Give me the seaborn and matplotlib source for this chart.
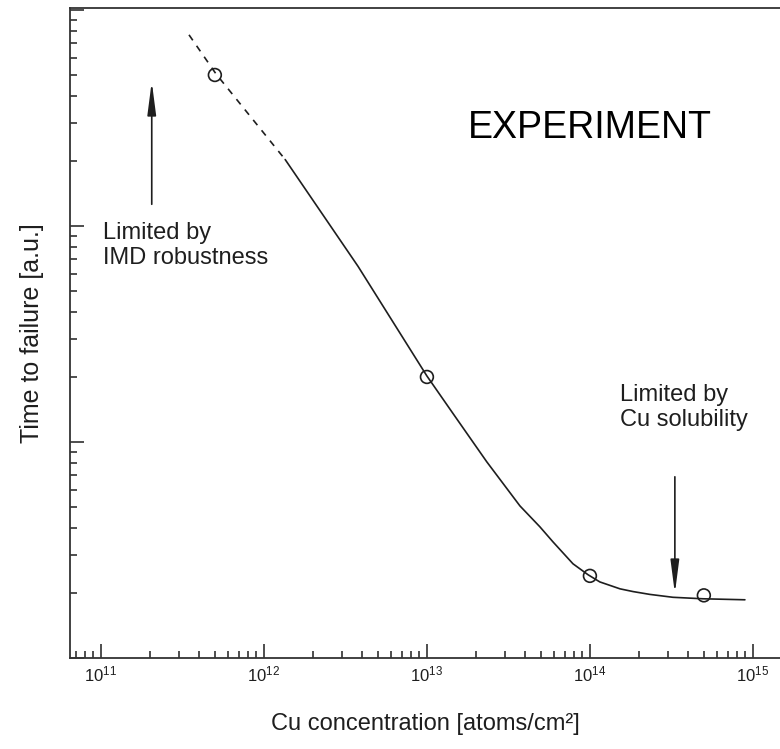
import numpy as np
import pandas as pd
import matplotlib
matplotlib.use("Agg")
import matplotlib.pyplot as plt
import matplotlib.ticker as mticker
import seaborn as sns

# Fitted time-to-failure curve versus Cu surface concentration
curve_conc = [3.47e11, 5.08e11, 1.35e12, 3.78e12, 1.0e13, 1.45e13, 2.33e13,
              3.72e13, 4.93e13, 5.93e13, 7.87e13, 9.73e13, 1.15e14, 1.53e14,
              1.84e14, 2.33e14, 3.23e14, 4.93e14, 8.93e14]
curve_ttf = [767, 506, 203, 65.0, 20.2, 13.5, 8.09, 5.06, 4.05, 3.45, 2.73,
             2.43, 2.25, 2.09, 2.03, 1.97, 1.91, 1.88, 1.86]
# the low-concentration end of the fit is an extrapolation (dashed)
extrap_end = 1.35e12

# Measured points
meas_conc = [5e11, 1e13, 1e14, 5e14]
meas_ttf = [500, 20, 2.4, 1.95]

xlim = (6.46e10, 1.466e15)
ylim = (1.0, 1021)

sns.set_style("ticks")
plt.rcParams["font.family"] = ["Liberation Sans", "DejaVu Sans"]
plt.rcParams["mathtext.fontset"] = "custom"
plt.rcParams["mathtext.rm"] = "Liberation Sans"
plt.rcParams["mathtext.it"] = "Liberation Sans"

ink = "#1e1e1e"

fig = plt.figure(figsize=(7.8, 7.49), dpi=100)
ax = fig.add_axes([70 / 780, (749 - 658) / 749, (780 - 70) / 780, (658 - 8) / 749])

curve = pd.DataFrame({"conc": curve_conc, "ttf": curve_ttf})
dashed = curve[curve["conc"] <= extrap_end]
solid = curve[curve["conc"] >= extrap_end]

sns.lineplot(data=dashed, x="conc", y="ttf", ax=ax, color=ink, lw=1.2,
             sort=False, estimator=None, linestyle=(0, (4, 4)))
sns.lineplot(data=solid, x="conc", y="ttf", ax=ax, color=ink, lw=1.2,
             sort=False, estimator=None)

meas = pd.DataFrame({"conc": meas_conc, "ttf": meas_ttf})
sns.scatterplot(data=meas, x="conc", y="ttf", ax=ax, marker="o", s=85,
                facecolor="none", edgecolor=ink, linewidth=1.2, zorder=5)

ax.set_xscale("log")
ax.set_yscale("log")
ax.set_xlim(*xlim)
ax.set_ylim(*ylim)

ax.xaxis.set_major_locator(mticker.LogLocator(base=10, numticks=20))
ax.xaxis.set_minor_locator(mticker.LogLocator(base=10, subs=np.arange(2, 10), numticks=100))
ax.xaxis.set_major_formatter(mticker.LogFormatterSciNotation())
ax.yaxis.set_major_locator(mticker.LogLocator(base=10, numticks=20))
ax.yaxis.set_minor_locator(mticker.LogLocator(base=10, subs=np.arange(2, 10), numticks=100))
ax.yaxis.set_major_formatter(mticker.NullFormatter())
ax.yaxis.set_minor_formatter(mticker.NullFormatter())

ax.tick_params(which="both", direction="in", color=ink, width=1.1, top=False, right=False)
ax.tick_params(which="major", length=10, labelsize=12, pad=5, labelcolor=ink)
ax.tick_params(which="minor", length=5)

for side in ["left", "bottom", "top"]:
    ax.spines[side].set_color("#333333")
    ax.spines[side].set_linewidth(1.3)
ax.spines["right"].set_visible(False)

ax.set_xlabel("Cu concentration [atoms/cm²]", fontsize=17, color=ink, labelpad=20)
ax.set_ylabel("Time to failure [a.u.]", fontsize=18, color=ink, labelpad=14)

ax.text(1e14, 285, "EXPERIMENT", fontsize=27, ha="center", va="center", color="black")

arrow_kw = dict(arrowstyle="-|>,head_length=1.0,head_width=0.13", color=ink, lw=1.2,
                shrinkA=0, shrinkB=0, mutation_scale=20)
ax.annotate("", xy=(2.05e11, 466), xytext=(2.05e11, 126), arrowprops=arrow_kw)
ax.text(1.03e11, 104, "Limited by\nIMD robustness", fontsize=17, ha="left", va="top",
        color=ink, linespacing=1.15)

ax.annotate("", xy=(3.32e14, 1.99), xytext=(3.32e14, 6.9), arrowprops=arrow_kw)
ax.text(1.53e14, 18.5, "Limited by\nCu solubility", fontsize=17, ha="left", va="top",
        color=ink, linespacing=1.15)

fig.savefig("out.png", dpi=100)
